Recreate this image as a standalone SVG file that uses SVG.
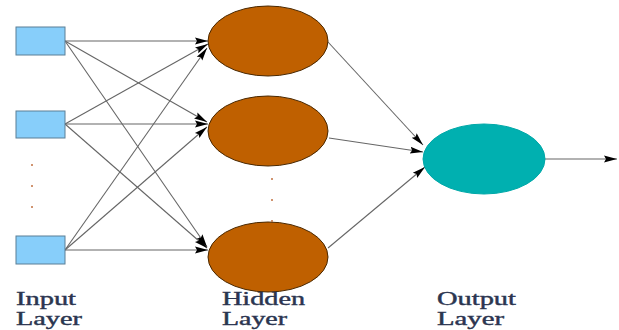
<svg xmlns="http://www.w3.org/2000/svg" width="619" height="330" viewBox="0 0 619 330">
<defs>
<marker id="arr" markerUnits="userSpaceOnUse" markerWidth="14" markerHeight="10" refX="13" refY="4" orient="auto" viewBox="0 0 14 8">
<path d="M0,0.6 L13,4 L0,7.4 L2,4 Z" fill="#000"/>
</marker>
<style>
.inp{fill:#87cefa;stroke:#5b7f96;stroke-width:1}
.hid{fill:#bf6000;stroke:#4a2800;stroke-width:1}
.out{fill:#00b0b0;stroke:#00a8a8;stroke-width:1}
.c{stroke:#666;stroke-width:1.1;fill:none;marker-end:url(#arr)}
.lbl{font-family:"Liberation Serif","Times New Roman",serif;font-size:18px;fill:#2b3550;stroke:#2b3550;stroke-width:0.4}
.dot{fill:#c07040}
</style>
</defs>
<rect width="619" height="330" fill="#fff"/>
<g id="connectors">
<line class="c" x1="65" y1="41" x2="208" y2="41"/>
<line class="c" x1="65" y1="41" x2="207" y2="122"/>
<line class="c" x1="65" y1="41" x2="207" y2="247"/>
<line class="c" x1="65" y1="124" x2="208" y2="44"/>
<line class="c" x1="65" y1="124" x2="208" y2="124"/>
<line class="c" x1="65" y1="124" x2="207" y2="248"/>
<line class="c" x1="65" y1="250" x2="207" y2="48"/>
<line class="c" x1="65" y1="250" x2="207" y2="127"/>
<line class="c" x1="65" y1="250" x2="208" y2="250"/>
<line class="c" x1="328" y1="42" x2="423" y2="145"/>
<line class="c" x1="329" y1="138" x2="423" y2="152"/>
<line class="c" x1="328" y1="248" x2="425" y2="167"/>
<line class="c" x1="545" y1="159" x2="617" y2="159"/>
</g>
<g id="input1"><rect class="inp" x="16" y="27" width="49" height="28"/></g>
<g id="input2"><rect class="inp" x="16" y="111" width="49" height="27"/></g>
<g id="input3"><rect class="inp" x="16" y="236" width="49" height="28"/></g>
<g id="input-dots">
<circle class="dot" cx="32" cy="165" r="1"/>
<circle class="dot" cx="32" cy="186" r="1"/>
<circle class="dot" cx="32" cy="207" r="1"/>
</g>
<g id="hidden1"><ellipse class="hid" cx="268" cy="41" rx="60" ry="35"/></g>
<g id="hidden2"><ellipse class="hid" cx="268" cy="131" rx="60" ry="35"/></g>
<g id="hidden3"><ellipse class="hid" cx="268" cy="257" rx="60" ry="35"/></g>
<g id="hidden-dots">
<circle class="dot" cx="272" cy="179" r="1"/>
<circle class="dot" cx="272" cy="200" r="1"/>
<circle class="dot" cx="272" cy="221" r="1"/>
</g>
<g id="output"><ellipse class="out" cx="484" cy="159" rx="61" ry="35"/></g>
<g id="labels">
<text class="lbl" x="16" y="305" textLength="60" lengthAdjust="spacingAndGlyphs">Input</text>
<text class="lbl" x="16" y="325" textLength="66" lengthAdjust="spacingAndGlyphs">Layer</text>
<text class="lbl" x="222" y="305" textLength="83" lengthAdjust="spacingAndGlyphs">Hidden</text>
<text class="lbl" x="222" y="325" textLength="65" lengthAdjust="spacingAndGlyphs">Layer</text>
<text class="lbl" x="437" y="305" textLength="79" lengthAdjust="spacingAndGlyphs">Output</text>
<text class="lbl" x="437" y="325" textLength="67" lengthAdjust="spacingAndGlyphs">Layer</text>
</g>
</svg>
